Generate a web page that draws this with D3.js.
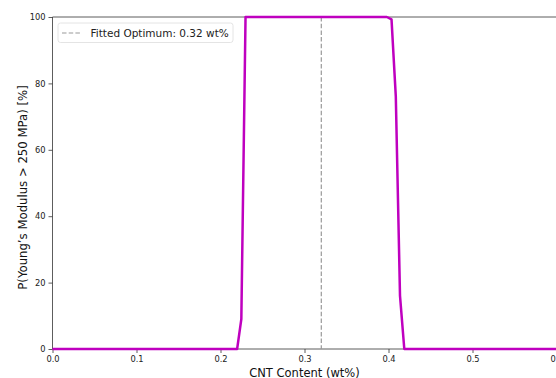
<!DOCTYPE html>
<html>
<head>
<meta charset="utf-8">
<title>CNT optimum</title>
<script src="https://d3js.org/d3.v7.min.js"></script>
<style>
  body { margin: 0; background: #fff; }
  svg { display: block; font-family: "DejaVu Sans", sans-serif; }
</style>
</head>
<body>
<svg id="chart" width="556" height="378"></svg>
<script>
// CNT content (wt%) and probability (%)
var cnt = [0.0, 0.2198, 0.2248, 0.2298, 0.3, 0.398, 0.4036, 0.4087, 0.4137, 0.4188, 0.7];
var prob = [0, 0, 9, 100, 100, 100, 99.3, 76, 16, 0, 0];
var optimum = 0.32;
var xTicks = [0.0, 0.1, 0.2, 0.3, 0.4, 0.5, 0.6];
var yTicks = [0, 20, 40, 60, 80, 100];

var svg = d3.select('#chart');
var plotLeft = 52.5, plotTop = 17, plotBottom = 349;

var x = d3.scaleLinear().domain([0, 0.6]).range([plotLeft, 556.5]);
var y = d3.scaleLinear().domain([0, 100]).range([plotBottom, plotTop]);

// axes
var xAxis = d3.axisBottom(x).tickValues(xTicks).tickFormat(d3.format('.1f')).tickSize(4).tickPadding(3).tickSizeOuter(0);
var yAxis = d3.axisLeft(y).tickValues(yTicks).tickFormat(d3.format('d')).tickSize(4).tickPadding(3).tickSizeOuter(0);

var gx = svg.append('g').attr('transform', 'translate(0,' + plotBottom + ')').call(xAxis);
var gy = svg.append('g').attr('transform', 'translate(' + plotLeft + ',0)').call(yAxis);
[gx, gy].forEach(function (g) {
  g.select('.domain').remove();
  g.selectAll('line').attr('stroke', '#333').attr('stroke-width', 0.8);
  g.selectAll('text').attr('font-size', 8.3).attr('fill', '#222').attr('font-family', 'DejaVu Sans');
});

// spines (right side runs off the picture)
svg.append('line').attr('x1', plotLeft).attr('x2', plotLeft).attr('y1', plotTop).attr('y2', plotBottom)
  .attr('stroke', '#333').attr('stroke-width', 0.8);
svg.append('line').attr('x1', plotLeft).attr('x2', 556).attr('y1', plotTop).attr('y2', plotTop)
  .attr('stroke', '#333').attr('stroke-width', 0.8);
svg.append('line').attr('x1', plotLeft).attr('x2', 556).attr('y1', plotBottom).attr('y2', plotBottom)
  .attr('stroke', '#333').attr('stroke-width', 0.8);

// optimum line
svg.append('line')
  .attr('x1', x(optimum)).attr('x2', x(optimum))
  .attr('y1', plotTop).attr('y2', plotBottom)
  .attr('stroke', '#999').attr('stroke-width', 1.2)
  .attr('stroke-dasharray', '4.5,2.2');

// probability curve
var pts = cnt.map(function (c, i) { return [c, prob[i]]; });
var line = d3.line().x(function (d) { return x(d[0]); }).y(function (d) { return y(d[1]); });
svg.append('path')
  .datum(pts)
  .attr('d', line)
  .attr('fill', 'none')
  .attr('stroke', '#bf00bf')
  .attr('stroke-width', 2.5)
  .attr('stroke-linejoin', 'round');

// legend
var lg = svg.append('g').attr('transform', 'translate(58,23)');
lg.append('rect').attr('width', 175).attr('height', 19.5).attr('rx', 2.5)
  .attr('fill', '#fff').attr('fill-opacity', 0.8)
  .attr('stroke', '#ddd').attr('stroke-width', 0.8);
lg.append('line').attr('x1', 4).attr('x2', 24).attr('y1', 10).attr('y2', 10)
  .attr('stroke', '#999').attr('stroke-width', 1.2).attr('stroke-dasharray', '4.5,2.2');
lg.append('text').attr('x', 32.5).attr('y', 14)
  .attr('font-size', 10.5).attr('fill', '#222')
  .text('Fitted Optimum: 0.32 wt%');

// axis labels
svg.append('text')
  .attr('x', x(0.3)).attr('y', 376.5)
  .attr('text-anchor', 'middle').attr('font-size', 11.5).attr('fill', '#111')
  .text('CNT Content (wt%)');
svg.append('text')
  .attr('transform', 'translate(26.5,' + ((plotTop + plotBottom) / 2 + 4.5) + ') rotate(-90)')
  .attr('text-anchor', 'middle').attr('font-size', 11.7).attr('fill', '#111')
  .text('P(Young\u2019s Modulus > 250 MPa) [%]');
</script>
</body>
</html>
